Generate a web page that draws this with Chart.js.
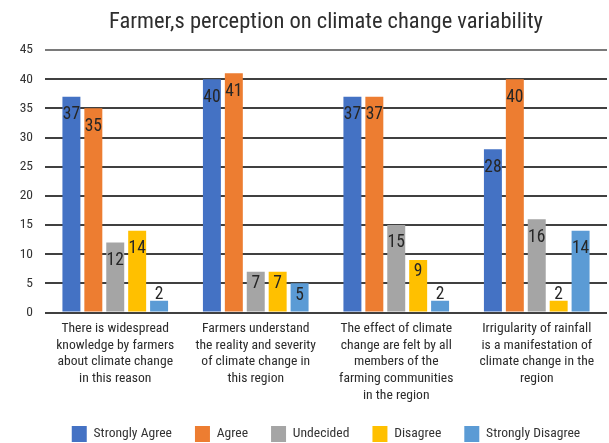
<!DOCTYPE html>
<html>
<head>
<meta charset="utf-8">
<script src="https://cdn.jsdelivr.net/npm/chart.js@4.4.1/dist/chart.umd.min.js"></script>
<style>
  html, body { margin: 0; padding: 0; background: #ffffff; }
  #wrap { width: 609px; height: 443px; }
</style>
</head>
<body>
<div id="wrap"><canvas id="chart" width="609" height="443"></canvas></div>
<script>
// Survey statements (one group of bars per statement)
const statements = [
  ['There is widespread', 'knowledge by farmers', 'about climate change', 'in this reason'],
  ['Farmers understand', 'the reality and severity', 'of climate change in', 'this region'],
  ['The effect of climate', 'change are felt by all', 'members of the', 'farming communities', 'in the region'],
  ['Irrigularity of rainfall', 'is a manifestation of', 'climate change in the', 'region']
];

// Responses per statement
const stronglyAgree    = [37, 40, 37, 28];
const agree            = [35, 41, 37, 40];
const undecided        = [12, 7, 15, 16];
const disagree         = [14, 7, 9, 2];
const stronglyDisagree = [2, 5, 2, 14];

const responseNames = ['Strongly Agree', 'Agree', 'Undecided', 'Disagree', 'Strongly Disagree'];
const responseColors = ['#4472C4', '#ED7D31', '#A5A5A5', '#FFC000', '#5B9BD5'];

const yMin = 0, yMax = 45, yStep = 5;

const FONT = "'Roboto Condensed', 'Liberation Sans', Arial, sans-serif";
Chart.defaults.font.family = FONT;
Chart.defaults.color = '#333333';

const seriesValues = [stronglyAgree, agree, undecided, disagree, stronglyDisagree];

// Value labels placed just inside the top of each bar (above very short bars)
const valueLabels = {
  id: 'valueLabels',
  afterDatasetsDraw(chart) {
    const ctx = chart.ctx;
    ctx.save();
    ctx.font = '17.5px ' + FONT;
    ctx.fillStyle = '#262626';
    ctx.textAlign = 'center';
    ctx.textBaseline = 'middle';
    chart.data.datasets.forEach((ds, di) => {
      const meta = chart.getDatasetMeta(di);
      meta.data.forEach((bar, i) => {
        const h = bar.base - bar.y;
        let y;
        if (h < 20) y = bar.y - 6;
        else if (h < 60) y = bar.y + 12;
        else y = bar.y + 18;
        ctx.fillText(String(ds.data[i]), bar.x, y);
      });
    });
    ctx.restore();
  }
};

new Chart(document.getElementById('chart'), {
  type: 'bar',
  data: {
    labels: statements,
    datasets: seriesValues.map((vals, k) => ({
      label: responseNames[k],
      data: vals,
      backgroundColor: responseColors[k],
      borderWidth: 0,
      barPercentage: 0.82,
      categoryPercentage: 0.78
    }))
  },
  options: {
    responsive: false,
    animation: false,
    devicePixelRatio: 1,
    layout: { padding: { top: 4, left: 0, right: 2, bottom: -9 } },
    plugins: {
      title: {
        display: true,
        fullSize: false,
        text: 'Farmer,s perception on climate change variability',
        color: '#2e2e2e',
        font: { size: 22.5, weight: 'normal', family: FONT },
        padding: { top: 5, bottom: 14 }
      },
      legend: {
        position: 'bottom',
        fullSize: false,
        labels: {
          boxWidth: 15,
          boxHeight: 16,
          padding: 23,
          color: '#333333',
          font: { size: 13.6, family: FONT }
        }
      },
      tooltip: { enabled: false }
    },
    scales: {
      x: {
        grid: { display: false, drawTicks: false },
        border: { display: false },
        ticks: {
          color: '#2b2b2b',
          font: { size: 13.6, lineHeight: 1.22, family: FONT },
          padding: 8,
          maxRotation: 0,
          autoSkip: false
        },
        afterFit(scale) { scale.height = 90.5; }
      },
      y: {
        min: yMin,
        max: yMax,
        border: { display: false },
        grid: {
          drawTicks: false,
          lineWidth: 2,
          color: (c) => (c.tick && c.tick.value === yMax) ? '#7a7a7a' : '#404040'
        },
        ticks: {
          stepSize: yStep,
          padding: 12,
          color: '#333333',
          font: { size: 13.5, family: FONT }
        },
        afterFit(scale) { scale.width = 45; }
      }
    }
  },
  plugins: [valueLabels]
});
</script>
</body>
</html>
